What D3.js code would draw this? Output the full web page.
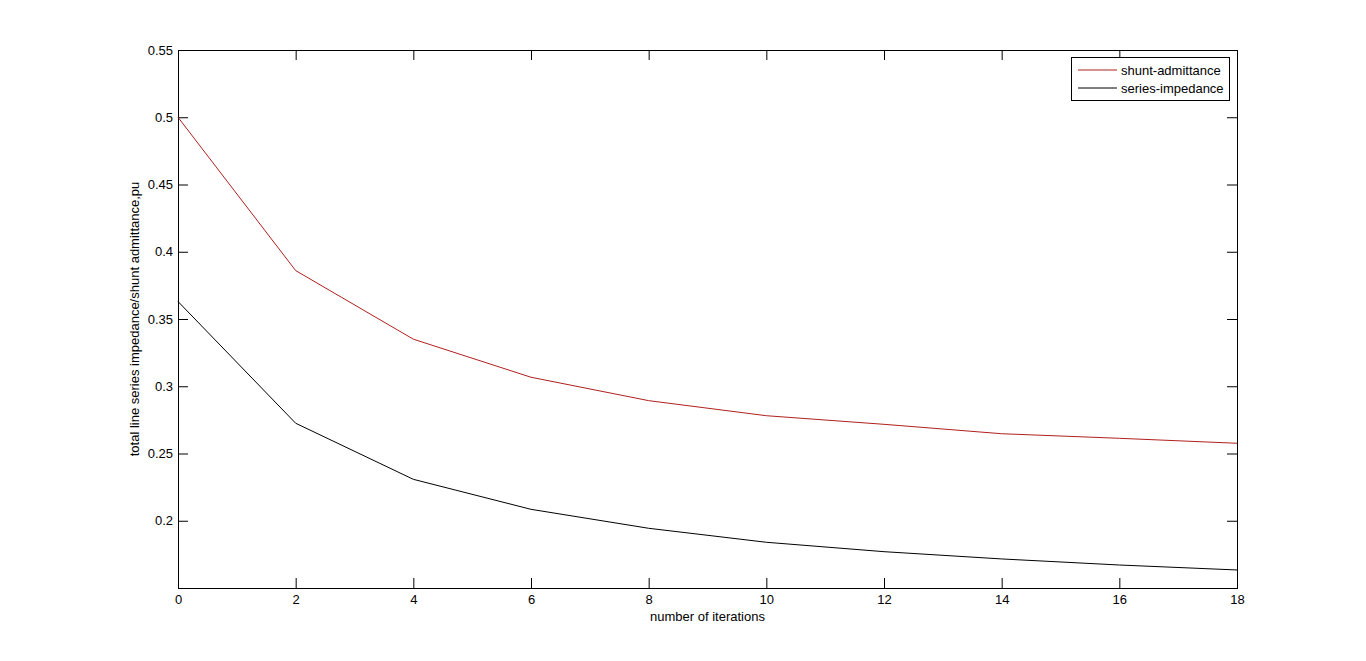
<!DOCTYPE html>
<html>
<head>
<meta charset="utf-8">
<script src="https://cdn.jsdelivr.net/npm/d3@7"></script>
<style>
  body { margin: 0; background: #fff; }
  text { font-family: "Liberation Sans", Arial, sans-serif; font-size: 13px; fill: #000; }
</style>
</head>
<body>
<div id="chart"></div>
<script>
var svgWidth = 1366;
var svgHeight = 661;

// axes box in page pixels
var margin = { top: 50, right: 129, bottom: 73, left: 178 };
var width = svgWidth - margin.left - margin.right;
var height = svgHeight - margin.top - margin.bottom;

// data
var iterations = [0, 2, 4, 6, 8, 10, 12, 14, 16, 18];
var shuntAdmittance = [0.5, 0.386, 0.335, 0.3067, 0.2893, 0.2781, 0.2717, 0.2647, 0.2613, 0.2576];
var seriesImpedance = [0.363, 0.2725, 0.2308, 0.2085, 0.1944, 0.184, 0.177, 0.1716, 0.1671, 0.1634];
var xTicks = [0, 2, 4, 6, 8, 10, 12, 14, 16, 18];
var yTicks = [0.2, 0.25, 0.3, 0.35, 0.4, 0.45, 0.5, 0.55];
var seriesNames = ["shunt-admittance", "series-impedance"];
var seriesColors = ["#b0201e", "#000000"];

var svg = d3.select("#chart")
  .append("svg")
  .attr("width", svgWidth)
  .attr("height", svgHeight);

var chartGroup = svg.append("g")
  .attr("transform", `translate(${margin.left}, ${margin.top})`);

var xScale = d3.scaleLinear().domain([0, 18]).range([0, width]);
var yScale = d3.scaleLinear().domain([0.15, 0.55]).range([height, 0]);

// axes, MATLAB style: inward ticks on all four sides
var fmt = d3.format("~g");
var bottomAxis = d3.axisBottom(xScale).tickValues(xTicks).tickSizeInner(-10).tickSizeOuter(0).tickPadding(7).tickFormat(fmt);
var topAxis = d3.axisTop(xScale).tickValues(xTicks).tickSizeInner(-10).tickSizeOuter(0).tickFormat("");
var leftAxis = d3.axisLeft(yScale).tickValues(yTicks).tickSizeInner(-10).tickSizeOuter(0).tickPadding(5).tickFormat(fmt);
var rightAxis = d3.axisRight(yScale).tickValues(yTicks).tickSizeInner(-10).tickSizeOuter(0).tickFormat("");

chartGroup.append("g").attr("transform", `translate(0, ${height})`).call(bottomAxis);
chartGroup.append("g").call(topAxis);
chartGroup.append("g").call(leftAxis);
chartGroup.append("g").attr("transform", `translate(${width}, 0)`).call(rightAxis);

chartGroup.selectAll(".domain").remove();
chartGroup.selectAll(".tick line").attr("stroke", "#000");
chartGroup.selectAll(".tick text").style("font-family", "Liberation Sans, Arial, sans-serif").style("font-size", "13px");

// box
chartGroup.append("rect")
  .attr("x", 0).attr("y", 0)
  .attr("width", width).attr("height", height)
  .attr("fill", "none")
  .attr("stroke", "#000")
  .attr("shape-rendering", "crispEdges");

// lines
var line = d3.line()
  .x((d, i) => xScale(iterations[i]))
  .y(d => yScale(d));

[shuntAdmittance, seriesImpedance].forEach(function(values, k) {
  chartGroup.append("path")
    .datum(values)
    .attr("fill", "none")
    .attr("stroke", seriesColors[k])
    .attr("stroke-width", 1)
    .attr("d", line);
});

// axis labels
chartGroup.append("text")
  .attr("x", width / 2)
  .attr("y", height + 33)
  .attr("text-anchor", "middle")
  .text("number of iterations");

chartGroup.append("text")
  .attr("transform", "rotate(-90)")
  .attr("x", -height / 2)
  .attr("y", -39)
  .attr("text-anchor", "middle")
  .text("total line series impedance/shunt admittance,pu");

// legend
var legend = svg.append("g").attr("transform", "translate(1071, 57)");
legend.append("rect")
  .attr("width", 158).attr("height", 43)
  .attr("fill", "#fff")
  .attr("stroke", "#000")
  .attr("shape-rendering", "crispEdges");

seriesNames.forEach(function(name, k) {
  var yy = 13 + k * 18;
  legend.append("line")
    .attr("x1", 7).attr("x2", 46)
    .attr("y1", yy).attr("y2", yy)
    .attr("stroke", seriesColors[k]);
  legend.append("text")
    .attr("x", 50).attr("y", yy)
    .attr("dy", "0.35em")
    .text(name);
});
</script>
</body>
</html>
